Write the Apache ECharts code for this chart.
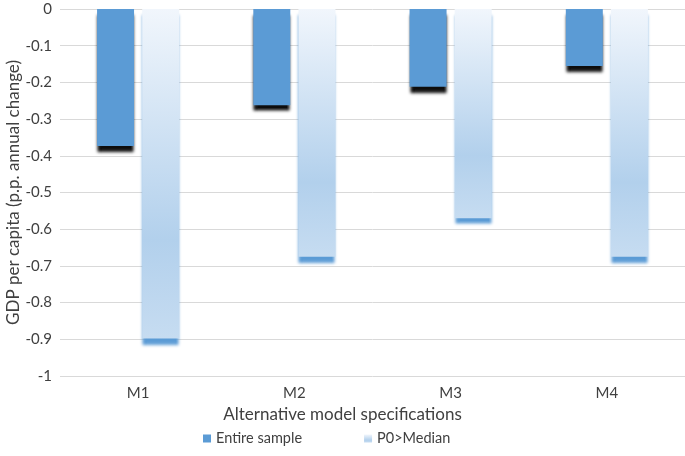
<!DOCTYPE html>
<html>
<head>
<meta charset="utf-8">
<script src="https://cdn.jsdelivr.net/npm/echarts@6/dist/echarts.min.js"></script>
<style>
  html, body { margin: 0; padding: 0; background: #fff; }
  #main { width: 685px; height: 456px; }
</style>
</head>
<body>
<div id="main"></div>
<script>
var myChart = echarts.init(document.getElementById('main'));

var categories = ['M1', 'M2', 'M3', 'M4'];
var entireSample = [-0.373, -0.262, -0.212, -0.155];
var p0Median = [-0.898, -0.675, -0.57, -0.675];
var yTicks = [0, -0.1, -0.2, -0.3, -0.4, -0.5, -0.6, -0.7, -0.8, -0.9, -1];

var font = 'Lato';

option = {
    animation: false,
    title: {
        text: 'Alternative model specifications',
        left: 'center',
        top: 401,
        textStyle: {
            fontFamily: font,
            fontSize: 17,
            fontWeight: 'normal',
            color: '#404040'
        }
    },
    legend: {
        bottom: 5,
        left: 198,
        itemWidth: 8,
        itemHeight: 8,
        itemGap: 62,
        icon: 'rect',
        textStyle: {
            fontFamily: font,
            fontSize: 14.5,
            color: '#404040'
        },
        data: ['Entire sample', 'P0>Median']
    },
    grid: {
        left: 60,
        right: 0,
        top: 9,
        bottom: 80,
        outerBoundsMode: 'none'
    },
    xAxis: {
        type: 'category',
        data: categories,
        axisLine: { show: false, onZero: false },
        axisTick: { show: false },
        axisLabel: {
            margin: 10,
            fontFamily: font,
            fontSize: 15,
            color: '#404040'
        }
    },
    yAxis: {
        type: 'value',
        min: -1,
        max: 0,
        interval: 0.1,
        name: 'GDP per capita (p.p. annual change)',
        nameLocation: 'middle',
        nameGap: 38,
        nameMoveOverlap: false,
        nameTextStyle: {
            fontFamily: font,
            fontSize: 17,
            color: '#404040'
        },
        axisLine: { show: false },
        axisTick: { show: false },
        splitLine: { lineStyle: { color: '#d9d9d9', width: 1 } },
        axisLabel: {
            margin: 8,
            fontFamily: font,
            fontSize: 15,
            color: '#404040',
            formatter: function (v) {
                var t = yTicks.find(function (x) { return Math.abs(x - v) < 1e-6; });
                return t === undefined ? '' : String(t);
            }
        }
    },
    series: [
        {
            name: 'Entire sample',
            type: 'bar',
            barWidth: 37,
            barGap: '22%',
            data: entireSample,
            itemStyle: {
                color: '#5b9bd5',
                shadowColor: 'rgba(0,0,0,0.95)',
                shadowBlur: 3,
                shadowOffsetY: 6
            }
        },
        {
            name: 'P0>Median',
            type: 'bar',
            barWidth: 37,
            data: p0Median,
            itemStyle: {
                color: new echarts.graphic.LinearGradient(0, 0, 0, 1, [
                    { offset: 0, color: '#f1f6fc' },
                    { offset: 0.7, color: '#b2d0ec' },
                    { offset: 1, color: '#c6dcf1' }
                ]),
                shadowColor: '#5b9bd5',
                shadowBlur: 3,
                shadowOffsetY: 6
            }
        }
    ]
};

myChart.setOption(option);
</script>
</body>
</html>
